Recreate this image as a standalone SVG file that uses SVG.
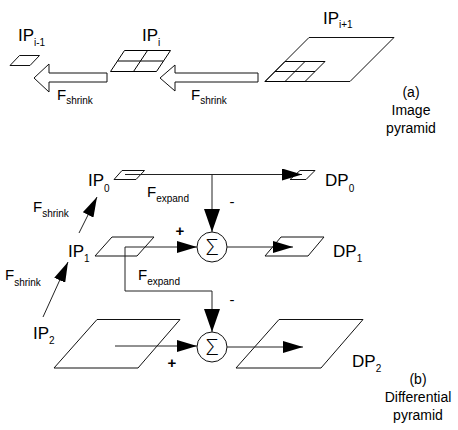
<svg xmlns="http://www.w3.org/2000/svg" width="458" height="430" viewBox="0 0 458 430">
<style>
  text { font-family: "Liberation Sans", Arial, sans-serif; fill: #000; }
  .lbl { font-size: 17px; }
  .f { font-size: 15px; }
  .sub { font-size: 10px; }
  .cap { font-size: 14px; text-anchor: middle; }
  .sign { font-size: 15px; text-anchor: middle; }
  .sig { font-family: "Open Sans", "Liberation Sans", sans-serif; font-weight: 300; font-size: 22px; text-anchor: middle; }
  .shape { fill: none; stroke: #111; stroke-width: 1; }
  .grid { fill: none; stroke: #000; stroke-width: 1; }
  .hollow { fill: #fff; stroke: #111; stroke-width: 1; }
  .conn { fill: none; stroke: #222; stroke-width: 1; }
  .circ { fill: #fff; stroke: #111; stroke-width: 1; }
</style>
<defs>
  <marker id="ah" markerUnits="userSpaceOnUse" markerWidth="20" markerHeight="12" viewBox="0 0 20 12" refX="20" refY="6" orient="auto">
    <path d="M0,0 L20,6 L0,12 z" fill="#000"/>
  </marker>
  <marker id="ahb" markerUnits="userSpaceOnUse" markerWidth="23" markerHeight="16" viewBox="0 0 23 16" refX="23" refY="8" orient="auto">
    <path d="M0,0 L23,8 L0,16 z" fill="#000"/>
  </marker>
</defs>

<!-- (a) Image pyramid -->
<g id="ip-im1">
  <polygon class="shape" points="10,65.5 19.5,55.5 39.5,55.5 30,65.5"/>
  <text class="lbl" x="18" y="41">IP<tspan class="sub" dy="5">i-1</tspan></text>
</g>
<g id="ip-i">
  <polygon class="grid" points="110.5,71.5 124.5,50.5 170.5,50.5 156.5,71.5"/>
  <line class="grid" x1="117.5" y1="61" x2="163.5" y2="61"/>
  <line class="grid" x1="133.5" y1="71.5" x2="147.5" y2="50.5"/>
  <text class="lbl" x="142" y="41">IP<tspan class="sub" dy="5">i</tspan></text>
</g>
<g id="ip-ip1">
  <polygon class="shape" points="265,81.5 309,37.5 394,37.5 350,81.5"/>
  <polygon class="grid" points="265,81.5 285,61.5 325,61.5 305,81.5"/>
  <line class="grid" x1="275" y1="71.5" x2="315" y2="71.5"/>
  <line class="grid" x1="285" y1="81.5" x2="305" y2="61.5"/>
  <text class="lbl" x="323" y="24">IP<tspan class="sub" dy="4">i+1</tspan></text>
</g>
<g id="shrink-a1">
  <polygon class="hollow" points="34,78 49,64 49,73 107,73 107,82 49,82 49,92"/>
  <text class="f" x="57" y="100">F<tspan class="sub" dy="4">shrink</tspan></text>
</g>
<g id="shrink-a2">
  <polygon class="hollow" points="160,78 175,65 175,73 258,73 258,82 175,82 175,91"/>
  <text class="f" x="191" y="100">F<tspan class="sub" dy="4">shrink</tspan></text>
</g>
<g id="caption-a">
  <text class="cap" x="411" y="97">(a)</text>
  <text class="cap" x="411" y="115">Image</text>
  <text class="cap" x="411" y="133">pyramid</text>
</g>

<!-- (b) Differential pyramid -->
<g id="ip0">
  <polygon class="shape" points="114,179.5 122,170.5 144.5,170.5 136,179.5"/>
  <text class="lbl" x="88" y="186">IP<tspan class="sub" dy="6">0</tspan></text>
</g>
<g id="ip1">
  <polygon class="shape" points="95,256 112,237 154,237 137,256"/>
  <text class="lbl" x="68" y="257">IP<tspan class="sub" dy="5">1</tspan></text>
</g>
<g id="ip2">
  <polygon class="shape" points="54,368 97,319.5 180,319.5 138,368"/>
  <text class="lbl" x="33" y="339">IP<tspan class="sub" dy="5">2</tspan></text>
</g>
<g id="dp0">
  <polygon class="shape" points="290,179.5 300,170.5 315,170.5 306,179.5"/>
  <text class="lbl" x="325" y="186">DP<tspan class="sub" dy="6">0</tspan></text>
</g>
<g id="dp1">
  <polygon class="shape" points="265,256 281,237 324,237 308,256"/>
  <text class="lbl" x="333" y="257">DP<tspan class="sub" dy="5">1</tspan></text>
</g>
<g id="dp2">
  <polygon class="shape" points="236,368 279,319.5 363,319.5 321,368"/>
  <text class="lbl" x="352" y="367">DP<tspan class="sub" dy="5">2</tspan></text>
</g>
<g id="sum1">
  <circle class="circ" cx="212" cy="247" r="15"/>
  <text class="sig" x="212" y="255">Σ</text>
</g>
<g id="sum2">
  <circle class="circ" cx="212" cy="347" r="15"/>
  <text class="sig" x="212" y="355">Σ</text>
</g>
<g id="caption-b">
  <text class="cap" x="418" y="384">(b)</text>
  <text class="cap" x="418" y="402">Differential</text>
  <text class="cap" x="418" y="420">pyramid</text>
</g>

<g id="connectors">
  <path class="conn" d="M125,174.5 H302" marker-end="url(#ah)"/>
  <path class="conn" d="M212,174.5 V232" marker-end="url(#ahb)"/>
  <path class="conn" d="M125,247 H197" marker-end="url(#ah)"/>
  <path class="conn" d="M125,247 V291 H212 V332" marker-end="url(#ahb)"/>
  <path class="conn" d="M227,247 H293" marker-end="url(#ah)"/>
  <path class="conn" d="M115,346 H197" marker-end="url(#ah)"/>
  <path class="conn" d="M227,347 H303" marker-end="url(#ah)"/>
  <path class="conn" d="M79,233 L97,197" marker-end="url(#ah)"/>
  <path class="conn" d="M43,317 L68,262" marker-end="url(#ah)"/>
</g>

<g id="edge-labels">
  <text class="f" x="147" y="197">F<tspan class="sub" dy="5">expand</tspan></text>
  <text class="f" x="138" y="280">F<tspan class="sub" dy="5">expand</tspan></text>
  <text class="f" x="33" y="212">F<tspan class="sub" dy="5">shrink</tspan></text>
  <text class="f" x="5" y="280">F<tspan class="sub" dy="6">shrink</tspan></text>
  <text class="sign" x="232" y="207">-</text>
  <text class="sign" x="180" y="236" font-weight="bold">+</text>
  <text class="sign" x="232" y="305">-</text>
  <text class="sign" x="172" y="368" font-weight="bold">+</text>
</g>
</svg>
